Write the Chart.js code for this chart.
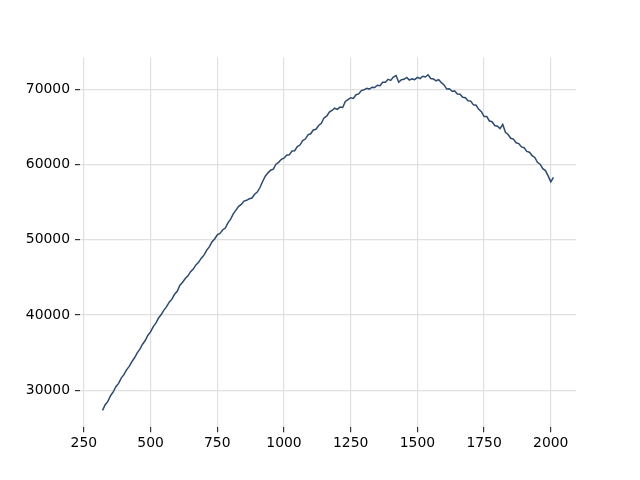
<!DOCTYPE html>
<html>
<head>
<meta charset="utf-8">
<script src="https://cdn.jsdelivr.net/npm/chart.js@4/dist/chart.umd.min.js"></script>
<style>
  html, body { margin: 0; padding: 0; background: #ffffff; }
  #wrap { width: 640px; height: 480px; position: relative; }
</style>
</head>
<body>
<div id="wrap"><canvas id="serieChart"></canvas></div>
<script>
// Valores (x, y)
const xValues = [
  320, 330, 340, 350, 360, 370, 380, 390, 400, 410, 420, 430, 440, 450, 460, 470, 480, 490, 500,
  510, 520, 530, 540, 550, 560, 570, 580, 590, 600, 610, 620, 630, 640, 650, 660, 670, 680, 690, 700,
  710, 720, 730, 740, 750, 760, 770, 780, 790, 800, 810, 820, 830, 840, 850, 860, 870, 880, 890, 900,
  910, 920, 930, 940, 950, 960, 970, 980, 990, 1000, 1010, 1020, 1030, 1040, 1050, 1060, 1070, 1080,
  1090, 1100, 1110, 1120, 1130, 1140, 1150, 1160, 1170, 1180, 1190, 1200, 1210, 1220, 1230, 1240,
  1250, 1260, 1270, 1280, 1290, 1300, 1310, 1320, 1330, 1340, 1350, 1360, 1370, 1380, 1390, 1400,
  1410, 1420, 1430, 1440, 1450, 1460, 1470, 1480, 1490, 1500, 1510, 1520, 1530, 1540, 1550, 1560,
  1570, 1580, 1590, 1600, 1610, 1620, 1630, 1640, 1650, 1660, 1670, 1680, 1690, 1700, 1710, 1720,
  1730, 1740, 1750, 1760, 1770, 1780, 1790, 1800, 1810, 1820, 1830, 1840, 1850, 1860, 1870, 1880,
  1890, 1900, 1910, 1920, 1930, 1940, 1950, 1960, 1970, 1980, 1990, 2000, 2010
];
const yValues = [
  27300, 28050, 28500, 29250, 29750, 30450, 30900, 31600, 32050, 32700, 33150, 33800, 34300, 34950, 35450, 36100, 36600, 37300, 37750,
  38450, 38900, 39600, 40050, 40650, 41100, 41700, 42100, 42750, 43150, 43950, 44350, 44850, 45200, 45750, 46100, 46650, 47000, 47550, 47950,
  48600, 49050, 49700, 50100, 50650, 50850, 51300, 51550, 52250, 52750, 53450, 53950, 54450, 54700, 55150, 55250, 55450, 55550, 56050, 56350,
  56950, 57750, 58450, 58900, 59250, 59400, 60050, 60300, 60700, 60850, 61250, 61300, 61800, 61850, 62400, 62600, 63200, 63400,
  63950, 64100, 64600, 64700, 65200, 65500, 66200, 66450, 67000, 67200, 67500, 67350, 67650, 67600, 68400, 68650,
  68900, 68800, 69300, 69400, 69850, 69950, 70150, 70050, 70300, 70250, 70550, 70500, 70950, 70950, 71350, 71200,
  71650, 71850, 70950, 71300, 71350, 71600, 71250, 71400, 71300, 71600, 71450, 71750, 71650, 71950, 71450, 71400,
  71150, 71300, 70900, 70600, 70050, 70100, 69750, 69800, 69400, 69350, 68950, 68900, 68500, 68450, 67950, 67900,
  67350, 67050, 66400, 66400, 65800, 65700, 65200, 65100, 64800, 65350, 64300, 64000, 63500, 63400, 62900, 62800,
  62350, 62250, 61750, 61650, 61200, 60950, 60300, 60050, 59450, 59200, 58500, 57700, 58300
];
const xTicks = [250, 500, 750, 1000, 1250, 1500, 1750, 2000];
const yTicks = [30000, 40000, 50000, 60000, 70000];

const puntos = xValues.map(function (x, i) { return { x: x, y: yValues[i] }; });

const canvas = document.getElementById('serieChart');
new Chart(canvas, {
    type: 'line',
    data: {
        datasets: [{
            data: puntos,
            borderColor: '#2e4a6d',
            borderWidth: 1.5,
            pointRadius: 0,
            tension: 0,
            fill: false
        }]
    },
    options: {
        responsive: true,
        maintainAspectRatio: false,
        animation: false,
        layout: { padding: { top: 57.6, right: 64, bottom: 0, left: 0 } },
        plugins: {
            legend: { display: false },
            tooltip: { enabled: false }
        },
        scales: {
            x: {
                type: 'linear',
                min: 235.5,
                max: 2094.5,
                afterBuildTicks: function (scale) {
                    scale.ticks = xTicks.map(function (v) { return { value: v }; });
                },
                afterFit: function (scale) { scale.height = 52.8; },
                border: { display: false },
                grid: { color: '#e0e0e0', lineWidth: 1.2, tickColor: '#333333', tickLength: 5 },
                ticks: {
                    color: '#000000',
                    padding: 3,
                    maxRotation: 0,
                    font: { family: "'DejaVu Sans', sans-serif", size: 13.9 },
                    callback: function (v) { return String(v); }
                }
            },
            y: {
                type: 'linear',
                min: 25065,
                max: 74235,
                afterBuildTicks: function (scale) {
                    scale.ticks = yTicks.map(function (v) { return { value: v }; });
                },
                afterFit: function (scale) { scale.width = 80; },
                border: { display: false },
                grid: { color: '#e0e0e0', lineWidth: 1.2, tickColor: '#333333', tickLength: 5 },
                ticks: {
                    color: '#000000',
                    padding: 5,
                    font: { family: "'DejaVu Sans', sans-serif", size: 13.9 },
                    callback: function (v) { return String(v); }
                }
            }
        }
    }
});
</script>
</body>
</html>
